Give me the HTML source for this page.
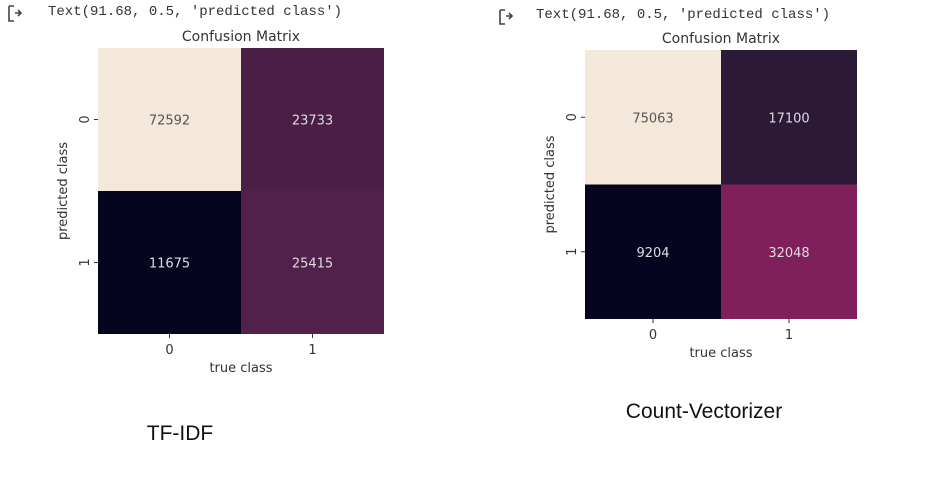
<!DOCTYPE html>
<html><head><meta charset="utf-8"><style>
html,body{margin:0;padding:0;background:#fff;width:938px;height:485px;overflow:hidden}
svg text{font-family:"DejaVu Sans","Liberation Sans",sans-serif}
</style></head><body>
<svg id="root" width="938" height="485" viewBox="0 0 938 485" xmlns="http://www.w3.org/2000/svg">
<g fill="none" stroke="#444" stroke-width="1.6">
<path d="M9 6 V21 H14 M9 6 H14"/><path d="M15 13 H21 M18 10 L21 13 L18 16"/></g>
<text x="48" y="15" font-family="Liberation Mono,monospace" font-size="14" fill="#333" style="font-family:'Liberation Mono',monospace">Text(91.68, 0.5, 'predicted class')</text>
<g fill="none" stroke="#444" stroke-width="1.6">
<path d="M500 10 V24 H505 M500 10 H505"/><path d="M506 16 H512 M509 13 L512 16 L509 19"/></g>
<text x="536" y="18" font-size="14" fill="#333" style="font-family:'Liberation Mono',monospace">Text(91.68, 0.5, 'predicted class')</text>
<g id="left"></g>
<g id="right"></g>
<text x="180" y="440" text-anchor="middle" font-size="21" fill="#111" style="font-family:'Liberation Sans',sans-serif">TF-IDF</text>
<text x="704" y="418" text-anchor="middle" font-size="21" fill="#111" style="font-family:'Liberation Sans',sans-serif">Count-Vectorizer</text>
</svg>
<script>
const classLabels = ["0", "1"];
const tfidfValues = [[72592, 23733], [11675, 25415]];
const countValues = [[75063, 17100], [9204, 32048]];
const NS = "http://www.w3.org/2000/svg";
const stops = [[0,"#060520"],[0.12,"#2c1837"],[0.2,"#4a1f48"],[0.23,"#52204c"],[0.35,"#801f5b"],[0.5,"#a11a5b"],[0.75,"#e83f3f"],[1,"#f3e8da"]];
function hex(h){return [1,3,5].map(i=>parseInt(h.substr(i,2),16));}
function cmap(t){
  for(let i=1;i<stops.length;i++){
    if(t<=stops[i][0]){const a=stops[i-1],b=stops[i];const f=(t-a[0])/(b[0]-a[0]);
      const ca=hex(a[1]),cb=hex(b[1]);return "rgb("+ca.map((v,k)=>Math.round(v+(cb[k]-v)*f)).join(",")+")";}
  }
  return stops[stops.length-1][1];
}
function mk(tag,attrs,parent){const e=document.createElementNS(NS,tag);for(const k in attrs)e.setAttribute(k,attrs[k]);parent.appendChild(e);return e;}
function draw(gid,vals,x0,y0,x1,y1){
  const g=document.getElementById(gid);
  const n=classLabels.length;
  const flat=vals.flat();const mn=Math.min(...flat),mx=Math.max(...flat);
  const cw=(x1-x0)/n,ch=(y1-y0)/n;
  const xs=i=>x0+i*cw, ys=j=>y0+j*ch;
  const t=mk("text",{x:(x0+x1)/2,y:y0-7,"text-anchor":"middle","font-size":"14",fill:"#333"},g);
  t.textContent="Confusion Matrix";
  
  
  for(let r=0;r<n;r++)for(let c=0;c<n;c++){
    const v=vals[r][c];const tt=(v-mn)/(mx-mn);
    const rect=mk("rect",{x:xs(c),y:ys(r),width:cw,height:ch,fill:cmap(tt)},g);
    
    
    const lb=mk("text",{x:xs(c)+cw/2,y:ys(r)+ch/2+5,"text-anchor":"middle","font-size":"13",fill:tt>0.6?"#555":"#ddd"},g);
    lb.textContent=String(v);
    
    
  }
  classLabels.forEach((l,i)=>{
    const cx=xs(i)+cw/2;
    const tk=mk("line",{x1:cx,y1:y1,x2:cx,y2:y1+4,stroke:"#333"},g);
    
    
    const tl=mk("text",{x:cx,y:y1+20,"text-anchor":"middle","font-size":"13",fill:"#333"},g);
    tl.textContent=l;
    
    
    const cy=ys(i)+ch/2;
    const ty=mk("line",{x1:x0-4,y1:cy,x2:x0,y2:cy,stroke:"#333"},g);
    
    
    const yl=mk("text",{x:0,y:0,"text-anchor":"middle","font-size":"13",fill:"#333",transform:"translate("+(x0-9)+","+cy+") rotate(-90)"},g);
    yl.textContent=l;
    
    
  });
  const xt=mk("text",{x:(x0+x1)/2,y:y1+38,"text-anchor":"middle","font-size":"13",fill:"#333"},g);
  xt.textContent="true class";
  
  
  const yt=mk("text",{x:0,y:0,"text-anchor":"middle","font-size":"13",fill:"#333",transform:"translate("+(x0-31)+","+(y0+y1)/2+") rotate(-90)"},g);
  yt.textContent="predicted class";
  
  
}
draw("left",tfidfValues,98,48,384,334);
draw("right",countValues,585,50,857,319);
</script>
</body></html>
